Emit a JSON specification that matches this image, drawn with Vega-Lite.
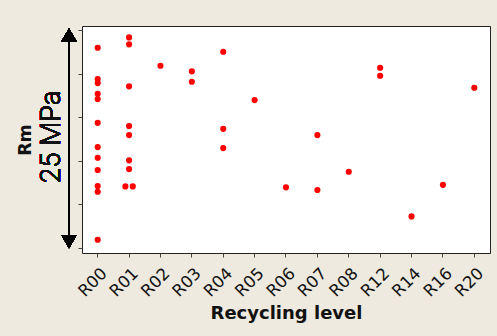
{
  "$schema": "https://vega.github.io/schema/vega-lite/v6.json",
  "autosize": "none",
  "width": 408,
  "height": 227,
  "padding": {"left": 82, "top": 26, "right": 7, "bottom": 83},
  "background": "#EEEAE0",
  "config": {
    "view": {"fill": "white", "stroke": "#222222", "strokeWidth": 1},
    "font": "DejaVu Sans"
  },
  "data": {"values": [
    {"level": "R00", "Rm": 23.0, "tie": 0},
    {"level": "R00", "Rm": 19.4, "tie": 0},
    {"level": "R00", "Rm": 18.94, "tie": 0},
    {"level": "R00", "Rm": 17.71, "tie": 0},
    {"level": "R00", "Rm": 17.1, "tie": 0},
    {"level": "R00", "Rm": 14.37, "tie": 0},
    {"level": "R00", "Rm": 11.58, "tie": 0},
    {"level": "R00", "Rm": 10.35, "tie": 0},
    {"level": "R00", "Rm": 8.94, "tie": 0},
    {"level": "R00", "Rm": 7.1, "tie": 0},
    {"level": "R00", "Rm": 6.44, "tie": 0},
    {"level": "R00", "Rm": 0.92, "tie": 0},
    {"level": "R01", "Rm": 24.19, "tie": 0},
    {"level": "R01", "Rm": 23.39, "tie": 0},
    {"level": "R01", "Rm": 18.56, "tie": 0},
    {"level": "R01", "Rm": 14.0, "tie": 0},
    {"level": "R01", "Rm": 12.96, "tie": 0},
    {"level": "R01", "Rm": 10.05, "tie": 0},
    {"level": "R01", "Rm": 9.05, "tie": 0},
    {"level": "R01", "Rm": 7.06, "tie": -1},
    {"level": "R01", "Rm": 7.06, "tie": 1},
    {"level": "R02", "Rm": 20.93, "tie": 0},
    {"level": "R03", "Rm": 20.29, "tie": 0},
    {"level": "R03", "Rm": 19.09, "tie": 0},
    {"level": "R04", "Rm": 22.54, "tie": 0},
    {"level": "R04", "Rm": 13.68, "tie": 0},
    {"level": "R04", "Rm": 11.46, "tie": 0},
    {"level": "R05", "Rm": 16.98, "tie": 0},
    {"level": "R06", "Rm": 6.95, "tie": 0},
    {"level": "R07", "Rm": 12.96, "tie": 0},
    {"level": "R07", "Rm": 6.64, "tie": 0},
    {"level": "R08", "Rm": 8.74, "tie": 0},
    {"level": "R12", "Rm": 20.7, "tie": 0},
    {"level": "R12", "Rm": 19.78, "tie": 0},
    {"level": "R14", "Rm": 3.61, "tie": 0},
    {"level": "R16", "Rm": 7.24, "tie": 0},
    {"level": "R20", "Rm": 18.4, "tie": 0}
  ]},
  "layer": [
    {
      "mark": {"type": "point", "filled": true, "color": "#FF0000", "opacity": 1, "size": 38},
      "encoding": {
        "x": {
          "field": "level", "type": "nominal",
          "scale": {"type": "band", "paddingInner": 0, "paddingOuter": 0},
          "axis": {
            "title": "Recycling level",
            "titleFont": "DejaVu Sans", "titleFontWeight": "bold", "titleFontSize": 18, "titleColor": "#111111",
            "titlePadding": 5,
            "labelAngle": -45, "labelFontSize": 16.5, "labelColor": "#111111", "labelPadding": 8, "labelOffset": 1,
            "domain": false, "ticks": true, "tickSize": 4, "tickColor": "#444444", "grid": false
          }
        },
        "xOffset": {"field": "tie", "type": "quantitative", "scale": {"domain": [-4.25, 4.25]}},
        "y": {
          "field": "Rm", "type": "quantitative",
          "scale": {"domain": [-0.6, 25.5], "nice": false, "zero": false},
          "axis": {
            "title": "Rm",
            "titleFont": "DejaVu Sans", "titleFontWeight": "bold", "titleFontSize": 17.5, "titleColor": "#111111",
            "titlePadding": 43,
            "values": [0, 5, 10, 15, 20, 25],
            "labels": false, "domain": false, "grid": false,
            "tickSize": 4, "tickColor": "#444444"
          }
        }
      }
    },
    {
      "mark": {"type": "rule", "color": "black", "strokeWidth": 2},
      "encoding": {
        "x": {"value": -13},
        "y": {"datum": 0.7},
        "y2": {"datum": 24.5}
      }
    },
    {
      "mark": {"type": "point", "shape": "triangle-up", "filled": true, "color": "black", "opacity": 1, "size": 225},
      "encoding": {"x": {"value": -13}, "y": {"datum": 24.48}}
    },
    {
      "mark": {"type": "point", "shape": "triangle-down", "filled": true, "color": "black", "opacity": 1, "size": 225},
      "encoding": {"x": {"value": -13}, "y": {"datum": 0.68}}
    },
    {
      "mark": {"type": "text", "text": "25 MPa", "angle": 270, "align": "center", "baseline": "middle", "fontSize": 27.5, "fontWeight": 300, "font": "Roboto", "color": "#111111"},
      "encoding": {"x": {"value": -30}, "y": {"datum": 12.76}}
    }
  ]
}
